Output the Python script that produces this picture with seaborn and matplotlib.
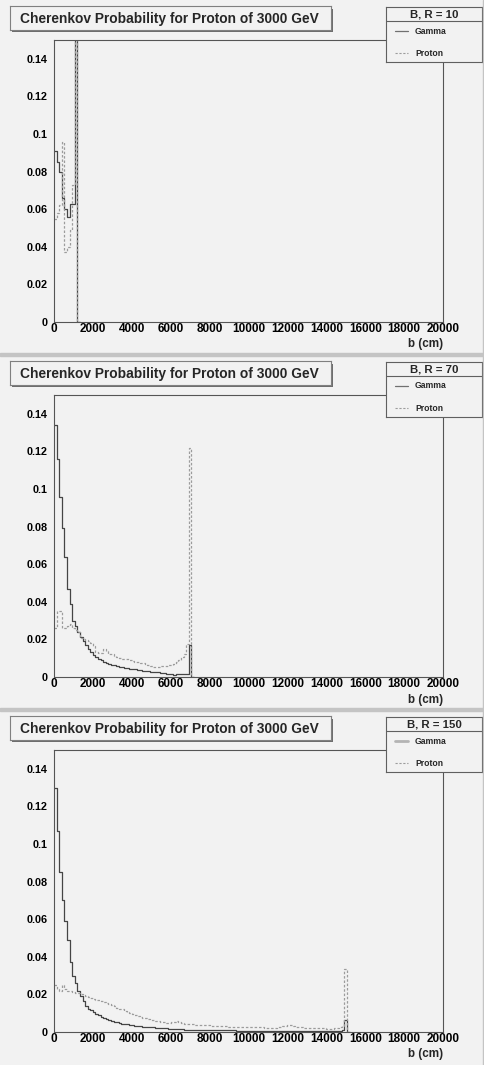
import numpy as np
import pandas as pd
import matplotlib
matplotlib.use('Agg')
import matplotlib.pyplot as plt
from matplotlib.patches import Rectangle
from matplotlib.ticker import MultipleLocator
import seaborn as sns

# histogram contents, 150 bins of 133.3 cm from b = 0 (last entry = first empty bin)
gamma_r10 = [0.091, 0.085, 0.080, 0.066, 0.060, 0.056, 0.063, 0.063, 0.30, 0.0]
proton_r10 = [0.055, 0.058, 0.062, 0.096, 0.037, 0.040, 0.049, 0.073, 0.30, 0.0]

gamma_r70 = [
    0.134, 0.116, 0.096, 0.079, 0.064, 0.047, 0.039, 0.030, 0.027, 0.024,
    0.0215, 0.019, 0.0168, 0.0150, 0.0133, 0.0118, 0.0106, 0.0097, 0.0089, 0.0082,
    0.0076, 0.0071, 0.0066, 0.0062, 0.0058, 0.0055, 0.0052, 0.0049, 0.0047, 0.0044,
    0.0042, 0.0040, 0.0038, 0.0036, 0.0034, 0.0032, 0.0030, 0.0028, 0.0027, 0.0025,
    0.0024, 0.0022, 0.0020, 0.0018, 0.0016, 0.0014, 0.0013, 0.0015, 0.0016, 0.0017,
    0.0018, 0.0018, 0.017, 0.0]
proton_r70 = [
    0.026, 0.035, 0.035, 0.026, 0.026, 0.027, 0.028, 0.026, 0.025, 0.024,
    0.021, 0.020, 0.0195, 0.019, 0.018, 0.0165, 0.0135, 0.013, 0.0128, 0.0148,
    0.014, 0.0125, 0.0122, 0.011, 0.0105, 0.0100, 0.0098, 0.0097, 0.0095, 0.0090,
    0.0085, 0.0080, 0.0078, 0.0076, 0.0074, 0.0068, 0.0063, 0.0060, 0.0055, 0.0053,
    0.0052, 0.0058, 0.0060, 0.0060, 0.0062, 0.0063, 0.0070, 0.0080, 0.0090, 0.0105,
    0.0125, 0.0175, 0.122, 0.0]

gamma_r150 = [
    0.130, 0.107, 0.085, 0.070, 0.059, 0.049, 0.0375, 0.030, 0.026, 0.022,
    0.019, 0.0165, 0.014, 0.0125, 0.0115, 0.0105, 0.0095, 0.0088, 0.0080, 0.0074,
    0.0068, 0.0063, 0.0059, 0.0055, 0.0051, 0.0048, 0.0045, 0.0042, 0.0040, 0.0038,
    0.0036, 0.0034, 0.0032, 0.0030, 0.0029, 0.0027, 0.0026, 0.0025, 0.0024, 0.0023,
    0.0022, 0.0021, 0.0020, 0.0019, 0.0018, 0.0017, 0.0016, 0.0015, 0.0015, 0.0014,
    0.0013, 0.0013, 0.0012, 0.0012, 0.0012, 0.0011, 0.0011, 0.0011, 0.0010, 0.0010,
    0.0010, 0.0009, 0.0009, 0.0009, 0.0009, 0.0008, 0.0008, 0.0008, 0.0008, 0.0008,
    0.0007, 0.0007, 0.0007, 0.0007, 0.0007, 0.0007, 0.0006, 0.0006, 0.0006, 0.0006,
    0.0006, 0.0006, 0.0006, 0.0005, 0.0005, 0.0005, 0.0005, 0.0005, 0.0005, 0.0005,
    0.0005, 0.0005, 0.0005, 0.0004, 0.0004, 0.0004, 0.0004, 0.0004, 0.0004, 0.0004,
    0.0004, 0.0004, 0.0004, 0.0004, 0.0004, 0.0004, 0.0004, 0.0004, 0.0005, 0.0005,
    0.0006, 0.0008, 0.0066, 0.0]
proton_r150 = [
    0.025, 0.023, 0.022, 0.025, 0.023, 0.022, 0.022, 0.0215, 0.021, 0.0205,
    0.020, 0.0195, 0.019, 0.0185, 0.018, 0.0175, 0.017, 0.0168, 0.0165, 0.016,
    0.0155, 0.015, 0.0145, 0.014, 0.013, 0.0125, 0.012, 0.0112, 0.0105, 0.010,
    0.0095, 0.009, 0.0085, 0.008, 0.0075, 0.0072, 0.0068, 0.0065, 0.0062, 0.0060,
    0.0058, 0.0055, 0.0052, 0.0050, 0.0050, 0.0052, 0.0055, 0.0056, 0.0052, 0.0048,
    0.0045, 0.0043, 0.0042, 0.0040, 0.0039, 0.0038, 0.0037, 0.0036, 0.0035, 0.0035,
    0.0034, 0.0033, 0.0032, 0.0032, 0.0031, 0.0030, 0.0030, 0.0029, 0.0029, 0.0028,
    0.0028, 0.0027, 0.0027, 0.0026, 0.0026, 0.0025, 0.0025, 0.0025, 0.0024, 0.0024,
    0.0024, 0.0023, 0.0023, 0.0023, 0.0022, 0.0023, 0.0024, 0.0026, 0.0030, 0.0034,
    0.0038, 0.0036, 0.0032, 0.0028, 0.0025, 0.0024, 0.0023, 0.0022, 0.0022, 0.0021,
    0.0021, 0.0020, 0.0020, 0.0019, 0.0019, 0.0018, 0.0018, 0.0018, 0.0019, 0.0021,
    0.0026, 0.0034, 0.0334, 0.0]

radii = [10, 70, 150]
gamma_sets = [gamma_r10, gamma_r70, gamma_r150]
proton_sets = [proton_r10, proton_r70, proton_r150]

title = 'Cherenkov Probability for Proton of 3000 GeV'
x_label = 'b (cm)'
n_bins = 150
x_max = 20000
y_max = 0.15
bin_w = x_max / n_bins

BG = '#f2f2f2'
FRAME = '#555555'
GAMMA_COL = '#454545'
PROTON_COL = '#9c9c9c'

sns.set_theme(style='white')
plt.rcParams['font.family'] = ['Liberation Sans', 'DejaVu Sans']
plt.rcParams['font.weight'] = 'bold'

W, H = 485, 1065
fig = plt.figure(figsize=(W / 100, H / 100), dpi=100, facecolor=BG)


def rect(x0, y0, x1, y1):
    # pixel box (top-left origin) -> figure fraction
    return [x0 / W, 1 - y1 / H, (x1 - x0) / W, (y1 - y0) / H]


def hist_frame(vals):
    n = len(vals)
    return pd.DataFrame({'b': (np.arange(n) + 0.5) * bin_w, 'p': vals}), n


for i, (r, gam, pro) in enumerate(zip(radii, gamma_sets, proton_sets)):
    off = i * 355

    ax = fig.add_axes(rect(54, off + 40, 443, off + 322))
    ax.set_facecolor(BG)
    df_g, ng = hist_frame(gam)
    df_p, npr = hist_frame(pro)
    sns.histplot(data=df_g, x='b', weights='p', bins=ng, binrange=(0, ng * bin_w),
                 element='step', fill=False, color=GAMMA_COL, linewidth=0.9, ax=ax)
    sns.histplot(data=df_p, x='b', weights='p', bins=npr, binrange=(0, npr * bin_w),
                 element='step', fill=False, color=PROTON_COL, linewidth=0.9,
                 linestyle=(0, (2, 1.5)), ax=ax)
    ax.set_xlabel('')
    ax.set_ylabel('')
    for s in ax.spines.values():
        s.set_color(FRAME)
        s.set_linewidth(0.8)
    ax.xaxis.set_major_locator(MultipleLocator(2000))
    ax.xaxis.set_minor_locator(MultipleLocator(500))
    ax.yaxis.set_major_locator(MultipleLocator(0.02))
    ax.yaxis.set_minor_locator(MultipleLocator(0.005))
    ax.tick_params(axis='both', which='both', direction='in', color=FRAME, width=0.8,
                   labelcolor='black')
    ax.tick_params(axis='y', which='major', length=8.4, pad=4.5, labelsize=7.8)
    ax.tick_params(axis='y', which='minor', length=4.2)
    ax.tick_params(axis='x', which='major', length=6.1, pad=1.0, labelsize=8.5)
    ax.tick_params(axis='x', which='minor', length=3.0)
    xt = np.arange(0, x_max + 1, 2000)
    yt = np.arange(0, 0.141, 0.02)
    ax.set_xticks(xt)
    ax.set_xticklabels([f'{int(v)}' for v in xt])
    ax.set_yticks(yt)
    ax.set_yticklabels(['0' if v == 0 else f'{v:.2f}'.rstrip('0') for v in yt])
    ax.set_xlim(0, x_max)
    ax.set_ylim(0, y_max)
    for lab in ax.get_xticklabels() + ax.get_yticklabels():
        lab.set_fontweight('bold')

    fig.text(443 / W, 1 - (off + 344.5) / H, x_label, ha='right', va='center',
             fontsize=8.4, fontweight='bold')

    # title box with shadow
    sh = fig.add_axes(rect(12.5, off + 8.5, 333, off + 32))
    sh.set_facecolor('#6e6e6e')
    sh.set_xticks([])
    sh.set_yticks([])
    for s in sh.spines.values():
        s.set_visible(False)
    tax = fig.add_axes(rect(10.5, off + 6, 331, off + 30))
    tax.set_facecolor(BG)
    tax.set_xticks([])
    tax.set_yticks([])
    for s in tax.spines.values():
        s.set_color('#808080')
        s.set_linewidth(0.8)
    tax.set_xlim(0, 320.5)
    tax.set_ylim(24, 0)
    tax.text(10, 12.6, title, ha='left', va='center', fontsize=9.9, fontweight='bold')

    # legend box
    lax = fig.add_axes(rect(385.7, off + 6.7, 482.3, off + 62.3))
    lax.set_facecolor(BG)
    lax.set_xticks([])
    lax.set_yticks([])
    for s in lax.spines.values():
        s.set_color('#606060')
        s.set_linewidth(0.8)
    lax.set_xlim(0, 96.6)
    lax.set_ylim(55.6, 0)
    lax.text(48.3, 7.4, f'B, R = {r}', ha='center', va='center', fontsize=8.2,
             fontweight='bold')
    lax.plot([0, 96.6], [14, 14], color='#606060', lw=0.8)
    g_lw, g_col = (2.0, '#b4b4b4') if r == 150 else (0.9, '#707070')
    lax.plot([9.3, 22.3], [24.3, 24.3], color=g_col, lw=g_lw)
    lax.plot([9.3, 22.3], [46.6, 46.6], color=PROTON_COL, lw=0.8,
             linestyle=(0, (2, 1.5)))
    lax.text(29.3, 24.3, 'Gamma', ha='left', va='center', fontsize=6.2,
             fontweight='bold')
    lax.text(29.3, 46.6, 'Proton', ha='left', va='center', fontsize=6.2,
             fontweight='bold')

# pad separators and right border
for y0 in (353, 708):
    fig.add_artist(Rectangle((0, 1 - (y0 + 3) / H), 1, 3 / H,
                             transform=fig.transFigure, color='#c4c4c4'))
fig.add_artist(Rectangle(((W - 2) / W, 0), 2 / W, 1,
                         transform=fig.transFigure, color='#c4c4c4'))

fig.savefig('out.png', dpi=100, facecolor=BG)
